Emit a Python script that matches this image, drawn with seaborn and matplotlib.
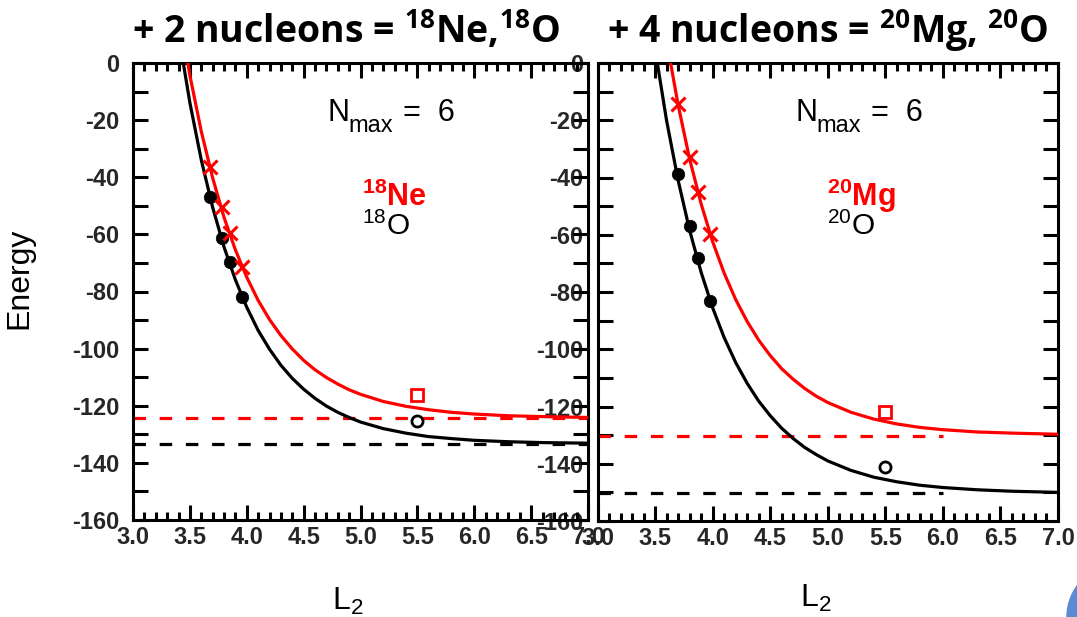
import matplotlib
matplotlib.use("Agg")
import matplotlib.pyplot as plt
import seaborn as sns
from matplotlib.ticker import MultipleLocator, FuncFormatter
from matplotlib.patches import Ellipse

# ---------------- data ----------------
# oscillator-length grid on which the fitted curves were read
fit_L = [3.4, 3.5, 3.6, 3.7, 3.8, 3.9, 4.0, 4.1, 4.2, 4.3, 4.4, 4.5, 4.6,
         4.7, 4.8, 4.9, 5.0, 5.2, 5.4, 5.6, 5.8, 6.0, 6.3, 6.6, 7.0]

# left panel: 18O (black) and 18Ne (red)
o18_fit = [10.1, -13.9, -33.9, -50.5, -64.4, -75.9, -85.5, -93.6, -100.2,
           -105.8, -110.4, -114.2, -117.4, -120.1, -122.3, -124.1, -125.7,
           -128.0, -129.6, -130.8, -131.5, -132.1, -132.6, -132.9, -133.1]
ne18_fit = [19.1, -4.3, -23.9, -40.2, -54.0, -65.4, -75.0, -83.1, -89.8,
            -95.4, -100.1, -104.1, -107.4, -110.1, -112.4, -114.4, -116.0,
            -118.5, -120.2, -121.4, -122.3, -122.9, -123.5, -123.8, -124.1]
left_pts_L = [3.68, 3.78, 3.85, 3.96]
o18_pts = [-46.9, -61.3, -69.7, -81.9]
ne18_pts = [-36.4, -50.4, -59.5, -71.4]
ref_L = [5.5]
o18_ref = [-125.3]
ne18_ref = [-116.2]
left_dash_L = [3.0, 7.0]
o18_inf = -133.3
ne18_inf = -124.3

# right panel: 20O (black) and 20Mg (red)
o20_fit = [34.4, 4.9, -20.1, -40.9, -58.4, -73.1, -85.5, -95.9, -104.6,
           -111.9, -118.1, -123.2, -127.6, -131.2, -134.3, -136.8, -139.0,
           -142.3, -144.7, -146.3, -147.5, -148.3, -149.1, -149.6, -150.0]
mg20_fit = [66.8, 34.7, 7.9, -14.6, -33.5, -49.2, -62.4, -73.4, -82.6,
            -90.3, -96.8, -102.2, -106.8, -110.5, -113.7, -116.4, -118.6,
            -122.0, -124.4, -126.1, -127.3, -128.1, -128.9, -129.3, -129.7]
right_pts_L = [3.70, 3.80, 3.87, 3.98]
o20_pts = [-38.8, -56.8, -68.1, -83.2]
mg20_pts = [-14.3, -32.9, -44.9, -59.9]
o20_ref = [-141.3]
mg20_ref = [-121.9]
right_dash_L = [3.0, 6.0]
o20_inf = -150.3
mg20_inf = -130.2

titles = ["+ 2 nucleons = $\\mathsf{{}^{18}Ne}$,$\\mathsf{{}^{18}O}$",
          "+ 4 nucleons = $\\mathsf{{}^{20}Mg}$, $\\mathsf{{}^{20}O}$"]
red_labels = ["$\\mathbf{{}^{18}}$Ne", "$\\mathbf{{}^{20}}$Mg"]
black_labels = ["$^{18}$O", "$^{20}$O"]
nmax_parts = ["N", "max", "=  6"]
x_label = "L$_2$"
y_label = "Energy"

# ---------------- style ----------------
sns.set_style("ticks")
plt.rcParams["font.family"] = ["Liberation Sans", "DejaVu Sans"]
plt.rcParams["mathtext.fontset"] = "custom"
plt.rcParams["mathtext.rm"] = "Liberation Sans"
plt.rcParams["mathtext.it"] = "Liberation Sans:italic"
plt.rcParams["mathtext.bf"] = "Liberation Sans:bold"
plt.rcParams["mathtext.sf"] = "Open Sans:bold"

RED = "#ff0000"
BLK = "#000000"
W, H = 1077, 617

fig = plt.figure(figsize=(W / 100, H / 100), dpi=100)
axL = fig.add_axes([133 / W, 1 - 520 / H, 455 / W, 457 / H])
axR = fig.add_axes([597.5 / W, 1 - 521 / H, 460.5 / W, 458 / H])
axL.set_zorder(2)
axL.patch.set_alpha(0)

panels = [
    (axL, o18_fit, ne18_fit, left_pts_L, o18_pts, ne18_pts, o18_ref, ne18_ref,
     left_dash_L, o18_inf, ne18_inf),
    (axR, o20_fit, mg20_fit, right_pts_L, o20_pts, mg20_pts, o20_ref, mg20_ref,
     right_dash_L, o20_inf, mg20_inf),
]

lw = 2.3
for (ax, bfit, rfit, pL, bpts, rpts, bref, rref, dL, binf, rinf) in panels:
    # extrapolated asymptotes (dashed)
    sns.lineplot(x=dL, y=[rinf] * len(dL), ax=ax, color=RED, lw=lw,
                 linestyle=(0, (3.9, 4.3)), zorder=2)
    sns.lineplot(x=dL, y=[binf] * len(dL), ax=ax, color=BLK, lw=lw,
                 linestyle=(0, (3.9, 4.3)), zorder=2)
    # fitted curves
    sns.lineplot(x=fit_L, y=rfit, ax=ax, color=RED, lw=lw, zorder=3)
    sns.lineplot(x=fit_L, y=bfit, ax=ax, color=BLK, lw=lw, zorder=3)
    # calculated points
    sns.lineplot(x=pL, y=bpts, ax=ax, color=BLK, linestyle="none",
                 marker="o", markersize=9, markerfacecolor=BLK,
                 markeredgecolor=BLK, markeredgewidth=0.5, zorder=4)
    sns.lineplot(x=pL, y=rpts, ax=ax, color=RED, linestyle="none",
                 marker="x", markersize=9.5, markeredgecolor=RED,
                 markeredgewidth=2.2, zorder=4)
    sns.lineplot(x=ref_L, y=rref, ax=ax, color=RED, linestyle="none",
                 marker="s", markersize=8.5, markerfacecolor="none",
                 markeredgecolor=RED, markeredgewidth=2.0, zorder=4)
    sns.lineplot(x=ref_L, y=bref, ax=ax, color=BLK, linestyle="none",
                 marker="o", markersize=8, markerfacecolor="none",
                 markeredgecolor=BLK, markeredgewidth=2.0, zorder=4)

    ax.set_xlim(3.0, 7.0)
    ax.set_ylim(-160, 0)
    ax.set_xlabel("")
    ax.set_ylabel("")
    ax.xaxis.set_major_locator(MultipleLocator(0.5))
    ax.xaxis.set_minor_locator(MultipleLocator(0.1))
    ax.xaxis.set_major_formatter(FuncFormatter(lambda v, p: f"{v:.1f}"))
    ax.yaxis.set_major_locator(MultipleLocator(10))
    ax.yaxis.set_major_formatter(FuncFormatter(
        lambda v, p: f"{int(round(v))}" if int(round(v)) % 20 == 0 else ""))
    ax.tick_params(which="both", direction="in", top=True, right=True,
                   width=2.2, color=BLK)
    ax.tick_params(which="major", length=11, labelsize=17)
    ax.tick_params(which="minor", length=5.5)
    ax.tick_params(axis="x", pad=4)
    ax.tick_params(axis="y", pad=10)
    for lab in ax.get_xticklabels() + ax.get_yticklabels():
        lab.set_fontweight("bold")
    for sp in ax.spines.values():
        sp.set_linewidth(2.2)
        sp.set_color(BLK)
        sp.set_visible(True)
    ax.grid(False)
    if ax.get_legend() is not None:
        ax.get_legend().remove()

# in-panel annotations (axes-fraction positions)
annots = [(axL, red_labels[0], black_labels[0], 0.428, 0.474, 0.593, 0.504),
          (axR, red_labels[1], black_labels[1], 0.430, 0.476, 0.594, 0.498)]
for ax, rl, bl, xn, xm, xe, xlab in annots:
    ax.text(xn, 0.873, nmax_parts[0], transform=ax.transAxes, ha="left",
            va="baseline", fontsize=22, color=BLK, zorder=5)
    ax.text(xm, 0.849, nmax_parts[1], transform=ax.transAxes, ha="left",
            va="baseline", fontsize=17, color=BLK, zorder=5)
    ax.text(xe, 0.873, nmax_parts[2], transform=ax.transAxes, ha="left",
            va="baseline", fontsize=22, color=BLK, zorder=5)
    ax.text(xlab, 0.688, rl, transform=ax.transAxes, ha="left",
            va="baseline", fontsize=22, fontweight="bold", color=RED, zorder=5)
    ax.text(xlab, 0.624, bl, transform=ax.transAxes, ha="left",
            va="baseline", fontsize=21.5, color=BLK, zorder=5)

# titles
fig.text(346 / W, 1 - 43 / H, titles[0], ha="center", va="baseline",
         fontsize=27, fontfamily="Open Sans", fontweight="bold", color=BLK)
fig.text(828 / W, 1 - 43 / H, titles[1], ha="center", va="baseline",
         fontsize=27, fontfamily="Open Sans", fontweight="bold", color=BLK)

# axis labels
fig.text(332 / W, 1 - 610 / H, x_label, ha="left", va="baseline",
         fontsize=23, color=BLK)
fig.text(800 / W, 1 - 607 / H, x_label, ha="left", va="baseline",
         fontsize=23, color=BLK)
fig.text(19 / W, 1 - 278 / H, y_label, rotation=90, ha="center",
         va="center", fontsize=23, color=BLK)

# slide decoration in the corner
fig.patches.append(Ellipse((1120 / W, 0.0), 2 * 53 / W, 2 * 53 / H,
                           transform=fig.transFigure, color="#5b8bd3",
                           zorder=0))

fig.savefig("out.png", dpi=100, facecolor="white")
